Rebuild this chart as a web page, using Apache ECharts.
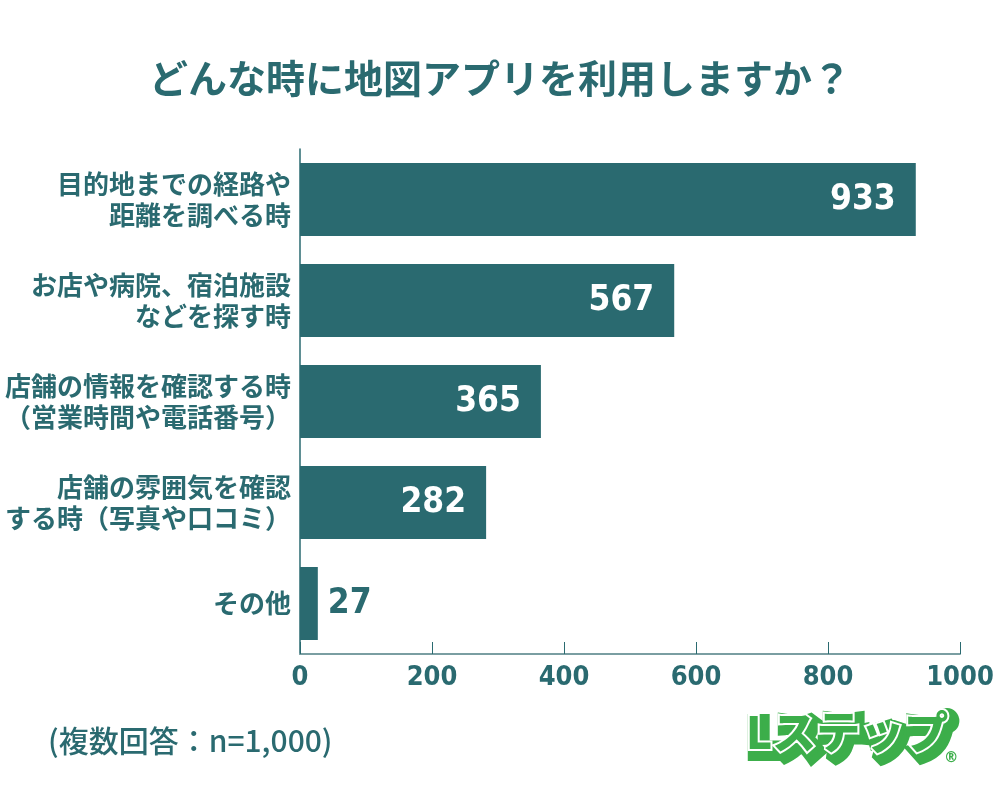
<!DOCTYPE html>
<html>
<head>
<meta charset="utf-8">
<script src="https://cdn.jsdelivr.net/npm/echarts@6/dist/echarts.min.js"></script>
<style>
  html, body { margin: 0; padding: 0; background: #fff; }
  #chart { width: 1000px; height: 788px; }
</style>
</head>
<body>
<div id="chart"></div>
<script>
// データ
var categories = [
  '目的地までの経路や\n距離を調べる時',
  'お店や病院、宿泊施設\nなどを探す時',
  '店舗の情報を確認する時\n（営業時間や電話番号）',
  '店舗の雰囲気を確認\nする時（写真や口コミ）',
  'その他'
];
var counts = [933, 567, 365, 282, 27];
var tickValues = [0, 200, 400, 600, 800, 1000];

var teal = '#2a6a70';
var jp = '"Noto Sans CJK JP", "Noto Sans", sans-serif';
var num = '"DejaVu Sans Condensed", "DejaVu Sans", sans-serif';

var chart = echarts.init(document.getElementById('chart'));

// 小さい値はバーの外側に表示
var barData = counts.map(function (v) {
  var item = { value: v };
  if (v < 100) {
    item.label = { position: 'right', color: teal, distance: 10 };
  }
  return item;
});

var option = {
  backgroundColor: '#fff',
  title: {
    text: 'どんな時に地図アプリを利用しますか？',
    left: 'center',
    top: 54,
    textStyle: { color: teal, fontSize: 39, fontWeight: 'bold', fontFamily: jp }
  },
  grid: { left: 300, right: 40, top: 149, bottom: 134 },
  xAxis: {
    type: 'value',
    min: 0,
    max: 1000,
    interval: 200,
    splitLine: { show: false },
    axisLine: { show: true, lineStyle: { color: '#7a9ea2', width: 2 } },
    axisTick: { show: true, inside: true, length: 12, lineStyle: { color: teal, width: 1 } },
    axisLabel: {
      color: teal, fontSize: 27, fontWeight: 'bold', fontFamily: num, margin: 10,
      formatter: function (v) { return tickValues.indexOf(v) >= 0 ? String(v) : ''; }
    }
  },
  yAxis: {
    type: 'category',
    data: categories,
    inverse: true,
    axisLine: { show: true, lineStyle: { color: teal, width: 1.5 } },
    axisTick: { show: false },
    axisLabel: {
      color: teal, fontSize: 26, fontWeight: 'bold', fontFamily: jp,
      lineHeight: 31, margin: 9, align: 'right'
    }
  },
  series: [{
    type: 'bar',
    data: barData,
    barWidth: 73,
    itemStyle: { color: teal },
    label: {
      show: true,
      position: 'insideRight',
      distance: 20,
      color: '#fff',
      fontSize: 35,
      fontWeight: 'bold',
      fontFamily: num
    }
  }],
  graphic: [
    {
      type: 'text', left: 48, top: 726,
      style: { text: '(複数回答：n=1,000)', fill: teal, fontSize: 30, fontFamily: jp, fontWeight: 500 }
    },
    // ロゴ（文字で近似）
    {
      type: 'text', left: 744, top: 708,
      style: {
        text: 'Lステップ', fill: '#3cae4a', stroke: '#3cae4a', lineWidth: 14,
        fontSize: 44, fontWeight: 900, fontFamily: jp
      }
    },
    {
      type: 'text', left: 744, top: 708,
      style: {
        text: 'Lステップ', fill: '#3cae4a', stroke: '#fff', lineWidth: 4,
        fontSize: 44, fontWeight: 900, fontFamily: jp
      }
    },
    {
      type: 'text', left: 944, top: 750,
      style: { text: '®', fill: '#3cae4a', fontSize: 16, fontWeight: 'bold', fontFamily: num }
    }
  ]
};

chart.setOption(option);
</script>
</body>
</html>
